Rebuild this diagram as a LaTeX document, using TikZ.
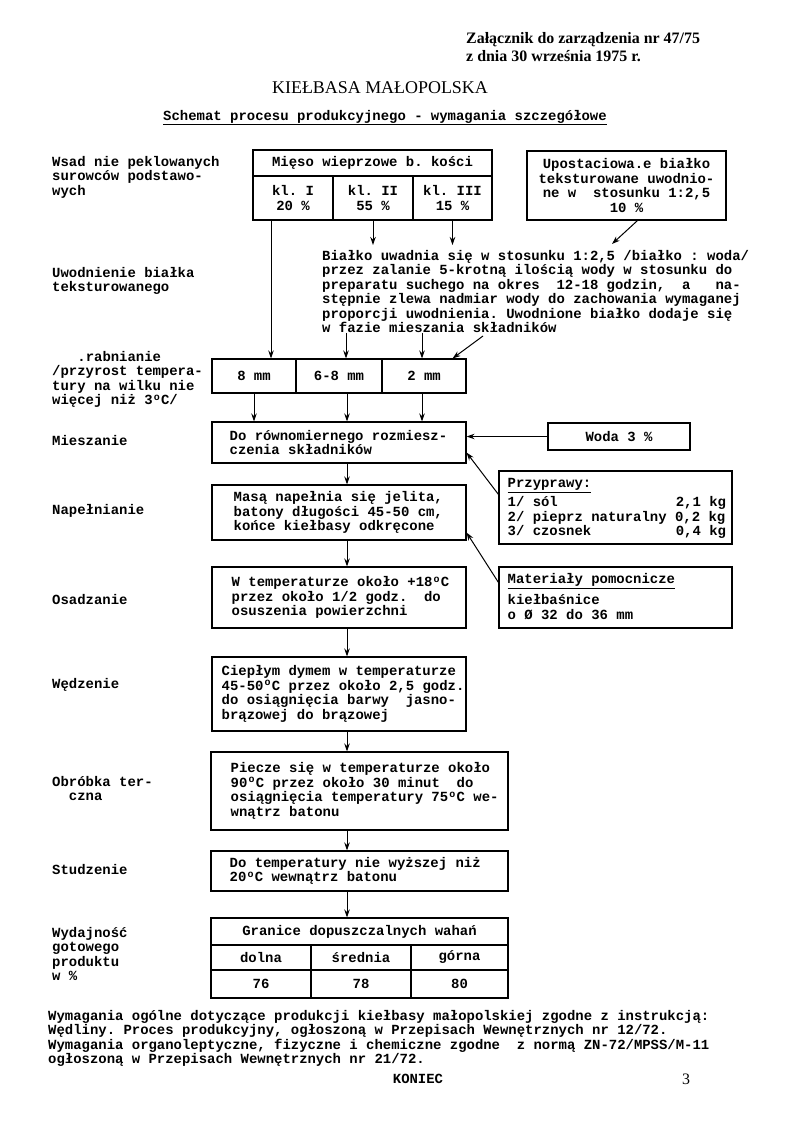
\documentclass[tikz,border=0pt]{standalone}
\usepackage{fontspec}
\setmainfont{Liberation Serif}
\newfontfamily\tw{Liberation Mono}
\usetikzlibrary{arrows.meta}
\newcommand\dg{\makebox[8.4bp]{\raisebox{4.5bp}{\fontsize{10}{10}\selectfont o}}}
\tikzset{
  tw/.style={font=\tw\bfseries\fontsize{14}{14.5}\selectfont\frenchspacing},
  box/.style={draw, line width=1.1bp, inner sep=0pt, tw},
  txt/.style={tw, inner sep=0pt, align=left},
  lbl/.style={txt, anchor=north west},
  arr/.style={draw, line width=1bp, -{Stealth[length=8bp,width=5.5bp]}}
}
\begin{document}
\begin{tikzpicture}[x=1bp,y=-1bp]
\useasboundingbox[fill=white] (0,0) rectangle (800,1146);
% header
\node[font=\bfseries\fontsize{16}{18}\selectfont, anchor=base west, inner sep=0pt] (h1) at (466,43) {Załącznik do zarządzenia nr 47/75};
\node[font=\bfseries\fontsize{16}{18}\selectfont, anchor=base west, inner sep=0pt] (h2) at (466,61) {z dnia 30 września 1975 r.};
\node[font=\fontsize{18}{20}\selectfont, anchor=base, inner sep=0pt] (title) at (380,93) {KIEŁBASA MAŁOPOLSKA};
\node[tw, anchor=base, inner sep=0pt] (sub) at (385,120) {\underline{Schemat procesu produkcyjnego - wymagania szczegółowe}};
% left labels
\node[lbl] (l1) at (52,156) {Wsad nie peklowanych\\surowców podstawo-\\wych};
\node[lbl] (l2) at (52,267) {Uwodnienie białka\\teksturowanego};
\node[lbl] (l3) at (52,351) {\hspace*{25.2bp}.rabnianie\\/przyrost tempera-\\tury na wilku nie\\więcej niż 3\dg C/};
\node[lbl] (l4) at (52,435) {Mieszanie};
\node[lbl] (l5) at (52,504) {Napełnianie};
\node[lbl] (l6) at (52,594) {Osadzanie};
\node[lbl] (l7) at (52,678) {Wędzenie};
\node[lbl] (l8) at (52,776) {Obróbka ter-\\\hspace*{16.8bp}czna};
\node[lbl] (l9) at (52,864) {Studzenie};
\node[lbl] (l10) at (52,927) {Wydajność\\gotowego\\produktu\\w \%};
% meat table
\node[box, minimum width=239bp, minimum height=26bp] (hdr) at (372.5,163) {Mięso wieprzowe b. kości};
\node[box, minimum width=80bp, minimum height=44bp, align=center] (kl1) at (293,198) {kl. I\\20 \%};
\node[box, minimum width=80bp, minimum height=44bp, align=center] (kl2) at (373,198) {kl. II\\55 \%};
\node[box, minimum width=79bp, minimum height=44bp, align=center] (kl3) at (452.5,198) {kl. III\\15 \%};
\node[box, minimum width=199bp, minimum height=69bp, align=center] (upo) at (626.5,185.5) {Upostaciowa.e białko\\teksturowane uwodnio-\\ne w~~stosunku 1:2,5\\10 \%};
% paragraph
\node[lbl] (para) at (322,250) {Białko uwadnia się w stosunku 1:2,5 /białko : woda/\\przez zalanie 5-krotną ilością wody w stosunku do\\preparatu suchego na okres~~12-18 godzin,~~a~~~na-\\stępnie zlewa nadmiar wody do zachowania wymaganej\\proporcji uwodnienia. Uwodnione białko dodaje się\\w fazie mieszania składników};
% sizes
\node[box, minimum width=84bp, minimum height=34bp] (s8) at (254,376) {8 mm};
\node[box, minimum width=86bp, minimum height=34bp] (s68) at (339,376) {6-8 mm};
\node[box, minimum width=84bp, minimum height=34bp] (s2) at (424,376) {2 mm};
% main column
\node[box, minimum width=254bp, minimum height=41bp] (mix) at (339,442.5) {};
\node[txt, anchor=west] (mixt) at ([xshift=18bp]mix.west) {Do równomiernego rozmiesz-\\czenia składników};
\node[box, minimum width=142bp, minimum height=27bp] (woda) at (619,436.5) {Woda 3 \%};
\node[box, minimum width=254bp, minimum height=55bp] (nap) at (339,512.5) {};
\node[txt, anchor=west] (napt) at ([xshift=22bp]nap.west) {Masą napełnia się jelita,\\batony długości 45-50 cm,\\końce kiełbasy odkręcone};
\node[box, minimum width=233bp, minimum height=73bp] (przy) at (615.5,507.5) {};
\node[lbl] (przyt) at ([xshift=9bp,yshift=-8bp]przy.north west) {\underline{Przyprawy:}\\[3bp]\makebox[218.4bp][l]{1/ sól\hfill 2,1 kg}\\\makebox[218.4bp][l]{2/ pieprz naturalny 0,2 kg}\\\makebox[218.4bp][l]{3/ czosnek\hfill 0,4 kg}};
\node[box, minimum width=254bp, minimum height=61bp] (osa) at (339,597.5) {};
\node[txt, anchor=west] (osat) at ([xshift=20bp]osa.west) {W temperaturze około +18\dg C\\przez około 1/2 godz.~~do\\osuszenia powierzchni};
\node[box, minimum width=233bp, minimum height=61bp] (mat) at (615.5,597.5) {};
\node[lbl] (matt) at ([xshift=9bp,yshift=-7bp]mat.north west) {\underline{Materiały pomocnicze}\\[5bp]kiełbaśnice\\o Ø 32 do 36 mm};
\node[box, minimum width=254bp, minimum height=74bp] (wed) at (339,694) {};
\node[txt, anchor=west] (wedt) at ([xshift=10bp]wed.west) {Ciepłym dymem w temperaturze\\45-50\dg C przez około 2,5 godz.\\do osiągnięcia barwy~~jasno-\\brązowej do brązowej};
\node[box, minimum width=297bp, minimum height=78bp] (obr) at (359.5,791) {};
\node[txt, anchor=west] (obrt) at ([xshift=20bp]obr.west) {Piecze się w temperaturze około\\90\dg C przez około 30 minut~~do\\osiągnięcia temperatury 75\dg C we-\\wnątrz batonu};
\node[box, minimum width=297bp, minimum height=40bp] (stu) at (359.5,871) {};
\node[txt, anchor=west] (stut) at ([xshift=19bp]stu.west) {Do temperatury nie wyższej niż\\20\dg C wewnątrz batonu};
% yield table
\node[box, minimum width=297bp, minimum height=27bp] (wh) at (359.5,931.5) {Granice dopuszczalnych wahań};
\node[box, minimum width=100bp, minimum height=25bp] (wd1) at (261,957.5) {dolna};
\node[box, minimum width=100bp, minimum height=25bp] (wd2) at (361,957.5) {średnia};
\node[box, minimum width=97bp, minimum height=25bp] (wd3) at (459.5,957.5) {górna};
\node[box, minimum width=100bp, minimum height=28bp] (wv1) at (261,984) {76};
\node[box, minimum width=100bp, minimum height=28bp] (wv2) at (361,984) {78};
\node[box, minimum width=97bp, minimum height=28bp] (wv3) at (459.5,984) {80};
% footer
\node[lbl] (foot) at (48,1010) {Wymagania ogólne dotyczące produkcji kiełbasy małopolskiej zgodne z instrukcją:\\Wędliny. Proces produkcyjny, ogłoszoną w Przepisach Wewnętrznych nr 12/72.\\Wymagania organoleptyczne, fizyczne i chemiczne zgodne~~z normą ZN-72/MPSS/M-11\\ogłoszoną w Przepisach Wewnętrznych nr 21/72.};
\node[tw, anchor=base, inner sep=0pt] (end) at (418,1083) {KONIEC};
\node[font=\fontsize{16}{16}\selectfont, anchor=base, inner sep=0pt] (pg) at (686,1084) {3};
% connectors
\coordinate (c1) at (271,0);
\coordinate (c4) at (346,0);
\coordinate (c5) at (422,0);
\coordinate (b1) at (254,0);
\coordinate (spine) at (347,0);
\coordinate (pd) at (483,336);
\draw[arr] (kl1.south -| c1) -- (s8.north -| c1);
\draw[arr, shorten >=5bp] (kl2.south) -- (kl2.south |- para.north);
\draw[arr, shorten >=5bp] (kl3.south) -- (kl3.south |- para.north);
\draw[arr] ([xshift=11bp]upo.south) -- ([xshift=-14.5bp,yshift=6bp]upo.south |- para.north);
\draw[arr] (c4 |- para.south) -- (c4 |- s68.north);
\draw[arr] (c5 |- para.south) -- (c5 |- s2.north);
\draw[arr] (pd) -- ([xshift=-14bp]s2.north east);
\draw[arr] (b1 |- s8.south) -- (b1 |- mix.north);
\draw[arr] (spine |- s68.south) -- (spine |- mix.north);
\draw[arr] (c5 |- s2.south) -- (c5 |- mix.north);
\draw[arr] (woda.west) -- (woda.west -| mix.east);
\draw[arr] ([yshift=-24bp]przy.north west) -- ([yshift=11bp]mix.south east);
\draw[arr] ([yshift=-16bp]mat.north west) -- ([yshift=8bp]nap.south east);
\draw[arr] (spine |- mix.south) -- (spine |- nap.north);
\draw[arr] (spine |- nap.south) -- (spine |- osa.north);
\draw[arr] (spine |- osa.south) -- (spine |- wed.north);
\draw[arr] (spine |- wed.south) -- (spine |- obr.north);
\draw[arr] (spine |- obr.south) -- (spine |- stu.north);
\draw[arr] (spine |- stu.south) -- (spine |- wh.north);
\end{tikzpicture}
\end{document}
